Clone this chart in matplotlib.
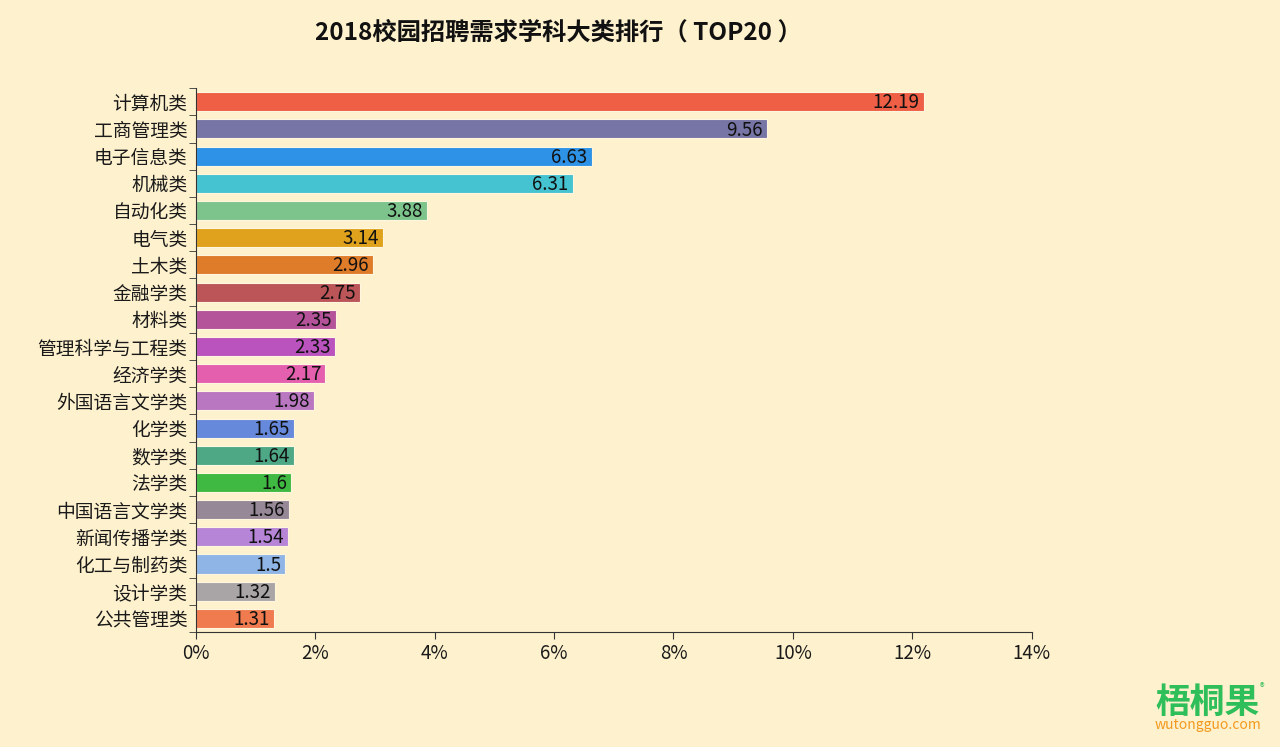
import matplotlib.pyplot as plt
import numpy as np

plt.rcParams['font.family'] = ['Noto Sans CJK SC', 'DejaVu Sans']

categories = ["计算机类", "工商管理类", "电子信息类", "机械类", "自动化类", "电气类",
              "土木类", "金融学类", "材料类", "管理科学与工程类", "经济学类",
              "外国语言文学类", "化学类", "数学类", "法学类", "中国语言文学类",
              "新闻传播学类", "化工与制药类", "设计学类", "公共管理类"]
values = [12.19, 9.56, 6.63, 6.31, 3.88, 3.14, 2.96, 2.75, 2.35, 2.33, 2.17,
          1.98, 1.65, 1.64, 1.6, 1.56, 1.54, 1.5, 1.32, 1.31]
colors = ["#EE5F45", "#7774A6", "#2E93E6", "#46C3D0", "#7CC48C", "#E0A21C",
          "#DE7C2A", "#BB5558", "#B4539A", "#BB53BE", "#E460AE", "#B977C1",
          "#6689DC", "#4EA886", "#3FB941", "#978897", "#B685D7", "#8FB5E6",
          "#A9A5A6", "#F07B4E"]
xticks = [0, 2, 4, 6, 8, 10, 12, 14]

bg = "#FEF1CD"
fig = plt.figure(figsize=(12.8, 7.47), dpi=100, facecolor=bg)
ax = fig.add_axes([0.153, 0.154, 0.653, 0.728])
ax.set_facecolor(bg)

y = np.arange(len(categories))
ax.barh(y, values, height=0.7, color=colors, edgecolor="#FFF6E0", linewidth=0.8)

# 数値ラベル（バーの内側右寄せ）
for yi, v in zip(y, values):
    ax.text(v - 0.07, yi + 0.04, f"{v:g}", ha="right", va="center", fontsize=13.5, color="#111111")

ax.set_ylim(len(categories) - 0.5, -0.5)
ax.set_xlim(0, 14)
ax.set_yticks(y)
ax.set_yticklabels(categories, fontsize=13.5, color="#1a1a1a")
ax.set_yticks(np.arange(-0.5, len(categories), 1), minor=True)
ax.tick_params(axis="y", which="major", length=0, pad=6)
ax.tick_params(axis="y", which="minor", length=5, color="#333333")
ax.set_xticks(xticks)
ax.set_xticklabels([f"{t}%" for t in xticks], fontsize=13.5, color="#1a1a1a")
ax.tick_params(axis="x", length=5, color="#333333", pad=3)

for s in ["top", "right"]:
    ax.spines[s].set_visible(False)
ax.spines["left"].set_color("#333333")
ax.spines["bottom"].set_color("#333333")

fig.text(0.436, 0.956, "2018校园招聘需求学科大类排行（ TOP20 ）", ha="center", va="center",
         fontsize=17.5, fontweight="bold", color="#111111")

# ロゴ
fig.text(0.9435, 0.059, "梧桐果", ha="center", va="center", fontsize=25,
         fontweight="bold", color="#2EBE5A")
fig.text(0.9435, 0.029, "wutongguo.com", ha="center", va="center", fontsize=10,
         color="#F39A1E")
fig.text(0.986, 0.079, "®", ha="center", va="center", fontsize=7, color="#2EBE5A")

plt.savefig("out.png", facecolor=bg)
